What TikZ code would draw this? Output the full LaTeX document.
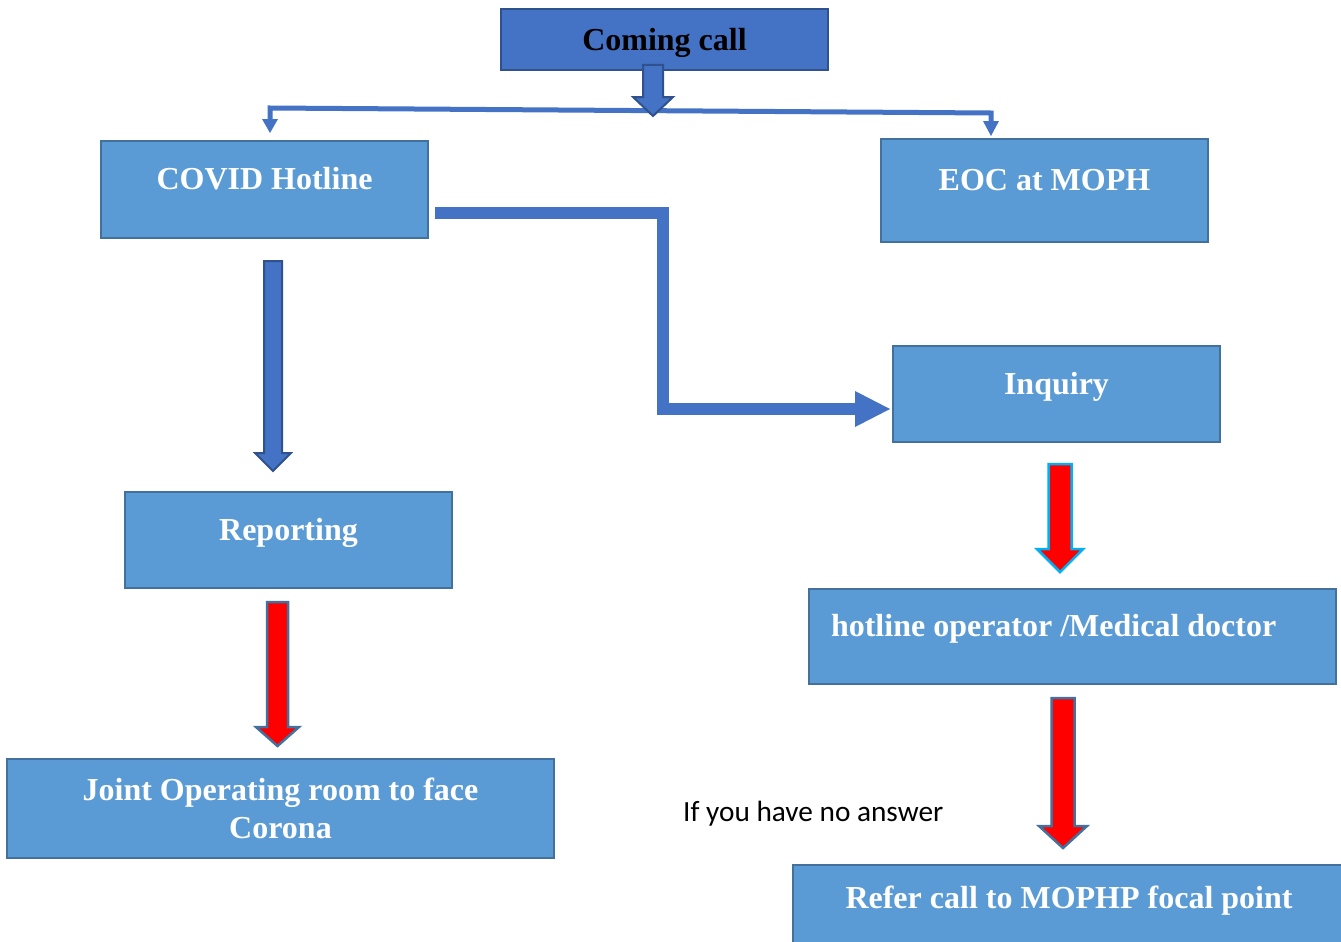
\documentclass[tikz,border=0pt]{standalone}
\usepackage{fontspec}
\setmainfont{Liberation Serif}
\newfontfamily\calib{Carlito}
\definecolor{boxfill}{HTML}{5B9BD5}
\definecolor{boxline}{HTML}{41719C}
\definecolor{darkfill}{HTML}{4472C4}
\definecolor{darkline}{HTML}{2F528F}
\definecolor{cyanline}{HTML}{00B0F0}
\definecolor{redfill}{HTML}{FF0000}
\newcommand\blkarrow[7]{\filldraw[#7] (#1-#5,#2) -- (#1+#5,#2) -- (#1+#5,#3) -- (#1+#6,#3) -- (#1,#4) -- (#1-#6,#3) -- (#1-#5,#3) -- cycle;}
\tikzset{
  box/.style={draw=boxline, fill=boxfill, line width=2pt, inner sep=0pt, anchor=north west,
    text=white, font=\fontsize{32}{38}\selectfont\bfseries, align=center},
  lifted/.style={text height=22pt, text depth=22pt},
  topbox/.style={draw=darkline, fill=darkfill, line width=2pt, inner sep=0pt, anchor=north west,
    text=black, font=\fontsize{32}{38}\selectfont\bfseries, text depth=0pt},
  conn/.style={draw=darkfill, line join=miter},
  bluearrow/.style={fill=darkfill, draw=darkline, line width=2pt, line join=miter},
  redarrow/.style={fill=redfill, draw=boxline, line width=2.5pt, line join=miter},
  redcyan/.style={fill=redfill, draw=cyanline, line width=2.5pt, line join=miter},
  tiphead/.style={fill=darkfill}
}
\begin{document}
\begin{tikzpicture}[x=1pt,y=-1pt]
\useasboundingbox (0,0) rectangle (1341,942);
\clip (0,0) rectangle (1341,942);
% boxes
\node[topbox, minimum width=327pt, minimum height=61pt] (call) at (500,8) {Coming call};
\node[box, lifted, minimum width=327pt, minimum height=97pt] (hotline) at (100,140) {COVID Hotline};
\node[box, lifted, minimum width=327pt, minimum height=103pt] (eoc) at (880,138) {EOC at MOPH};
\node[box, lifted, minimum width=327pt, minimum height=96pt] (inquiry) at (892,345) {Inquiry};
\node[box, lifted, minimum width=327pt, minimum height=96pt] (reporting) at (124,491) {Reporting};
\node[box, lifted, minimum width=527pt, minimum height=95pt] (operator) at (808,588) {\makebox[483pt][l]{hotline operator /Medical doctor}};
\node[box, minimum width=547pt, minimum height=99pt] (joint) at (6,758) {Joint Operating room to face\\Corona};
\node[box, lifted, minimum width=552pt, minimum height=86pt] (refer) at (792,864) {Refer call to MOPHP focal point};
\node[anchor=base west, inner sep=0pt, font=\calib\fontsize{29.3}{34}\selectfont] (noanswer) at (683,821) {If you have no answer};
% top split connector
\draw[conn, line width=5pt] (270,121) -- (270,108) -- (991,113) -- (991,123);
\fill[tiphead] (262,119) -- (278,119) -- (270,133) -- cycle;
\fill[tiphead] (983,121) -- (999,121) -- (991,136) -- cycle;
% arrow from Coming call
\blkarrow{653}{65}{97}{116}{10}{20}{bluearrow}
% elbow connector hotline -> inquiry
\draw[conn, line width=12pt] (435,213) -- (663,213) -- (663,409) -- (856,409);
\fill[tiphead] (855,391) -- (890,409) -- (855,427) -- cycle;
% hotline -> reporting
\blkarrow{273}{261}{453}{471}{9}{18}{bluearrow}
% inquiry -> operator
\blkarrow{1060}{464}{549}{572}{11.5}{23}{redcyan}
% operator -> refer
\blkarrow{1063}{698}{826}{848}{11.5}{24}{redarrow}
% reporting -> joint
\blkarrow{277.5}{602}{727}{746}{10.5}{21.5}{redarrow}
\end{tikzpicture}
\end{document}
